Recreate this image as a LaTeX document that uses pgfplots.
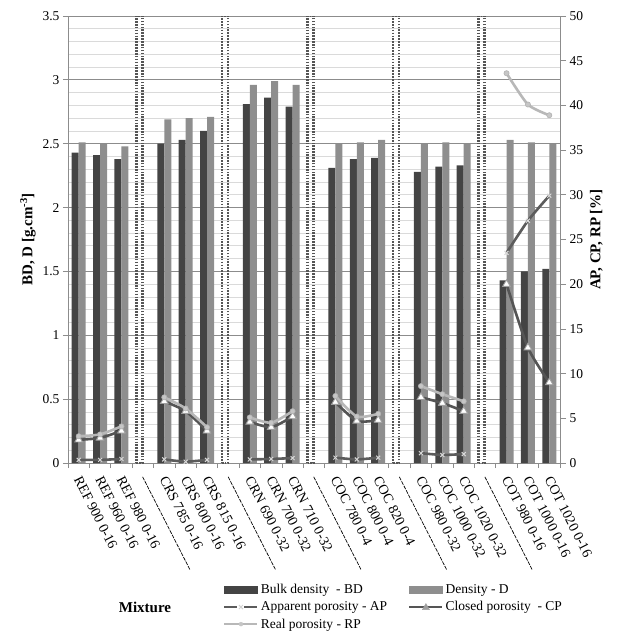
\documentclass[border=0pt]{standalone}
\usepackage{fontspec}
\setmainfont{Liberation Serif}
\usepackage{pgfplots}
\usepackage{pgfplotstable}
\pgfplotsset{compat=1.18}

\definecolor{bdcol}{HTML}{444444}
\definecolor{dcol}{HTML}{8E8E8E}
\definecolor{apcol}{HTML}{5C5C5C}
\definecolor{cpcol}{HTML}{555555}
\definecolor{rpcol}{HTML}{B8B8B8}
\definecolor{majgrid}{HTML}{8C8C8C}
\definecolor{mingrid}{HTML}{DADADA}
\definecolor{sepcol}{HTML}{555555}

\pgfplotstableread{
x BD D
0 2.43 2.51
1 2.41 2.50
2 2.38 2.48
4 2.50 2.69
5 2.53 2.70
6 2.60 2.71
8 2.81 2.96
9 2.86 2.99
10 2.79 2.96
12 2.31 2.50
13 2.38 2.51
14 2.39 2.53
16 2.28 2.50
17 2.32 2.51
18 2.33 2.50
20 1.43 2.53
21 1.50 2.51
22 1.52 2.50
}\bars

\pgfplotstableread{
x S
3 3.5
7 3.5
11 3.5
15 3.5
19 3.5
}\seps

\pgfplotstableread{
x AP CP RP
0 0.35 2.6 3.0
1 0.35 2.8 3.2
2 0.45 3.6 4.1
3 nan nan nan
4 0.4 6.9 7.35
5 0.15 5.8 6.1
6 0.35 3.6 4.0
7 nan nan nan
8 0.4 4.6 5.1
9 0.45 4.0 4.5
10 0.55 5.2 5.8
11 nan nan nan
12 0.6 6.8 7.5
13 0.4 4.7 5.2
14 0.6 4.8 5.5
15 nan nan nan
16 1.1 7.35 8.6
17 0.9 6.7 7.7
18 1.0 5.8 6.9
19 nan nan nan
20 23.5 20.0 43.6
21 27.1 12.9 40.1
22 29.9 9.0 38.9
}\por

\newcommand{\sepl}{\strut\foreach \k in {1,...,21}{\rule[3.4pt]{3.9pt}{0.7pt}\kern1.1pt}}

\begin{document}
\begin{tikzpicture}
\path[use as bounding box] (-68pt,-169pt) rectangle (551pt,463pt);
\begin{axis}[
  scale only axis, width=492pt, height=447pt,
  xmin=-0.5, xmax=22.5, ymin=0, ymax=3.5,
  axis y line*=left, axis x line*=bottom,
  ytick={0,0.5,...,3.5}, minor y tick num=4,
  ymajorgrids, yminorgrids,
  major grid style={majgrid, line width=0.9pt},
  minor grid style={mingrid, line width=0.8pt},
  minor y tick style={draw=none},
  xtick={0,...,22},
  major x tick style={draw=none},
  minor xtick={-0.5,0.5,...,22.5},
  minor x tick style={draw=majgrid, line width=0.8pt},
  tick align=outside,
  major tick length=5pt, minor tick length=5pt,
  y tick style={draw=majgrid, line width=0.8pt},
  axis line style={majgrid, line width=0.9pt},
  xticklabels={REF 900 0-16, REF 960 0-16, REF 980 0-16, \sepl,
    CRS 785 0-16, CRS 800 0-16, CRS 815 0-16, \sepl,
    CRN 690 0-32, CRN 700 0-32, CRN 710 0-32, \sepl,
    COC 780 0-4, COC 800 0-4, COC 820 0-4, \sepl,
    COC 980 0-32, COC 1000 0-32, COC 1020 0-32, \sepl,
    COT 980 0-16, COT 1000 0-16, COT 1020 0-16},
  x tick label style={yshift=-9pt, xshift=-1pt, rotate=-63, anchor=west, font=\fontsize{14}{15}\selectfont, inner sep=0pt},
  y tick label style={font=\fontsize{13.5}{15}\selectfont},
  /pgf/number format/assume math mode=true,
  yticklabel style={/pgf/number format/fixed, /pgf/number format/precision=1},
  ylabel={\textbf{BD, D [g.cm\textsuperscript{-3}]}},
  ylabel style={font=\fontsize{15}{16}\selectfont},
  ybar, bar width=7pt,
]
\addplot[ybar, bar shift=-3.5pt, fill=bdcol, draw=none] table[x=x, y=BD] {\bars};
\addplot[ybar, bar shift=3.5pt, fill=dcol, draw=none] table[x=x, y=D] {\bars};
\addplot[ybar, bar shift=-3.5pt, bar width=6pt, fill=none, draw=sepcol, line width=2.4pt, dash pattern=on 1.6pt off 1.3pt] table[x=x, y=S] {\seps};
\end{axis}
\begin{axis}[
  scale only axis, width=492pt, height=447pt,
  xmin=-0.5, xmax=22.5, ymin=0, ymax=50,
  axis y line*=right, axis x line=none,
  ytick={0,5,...,50},
  tick align=outside, major tick length=6pt,
  y tick style={draw=majgrid, line width=0.8pt},
  axis line style={majgrid, line width=0.9pt},
  y tick label style={font=\fontsize{13.5}{15}\selectfont},
  /pgf/number format/assume math mode=true,
  ylabel={\textbf{AP, CP, RP [\%]}},
  ylabel style={font=\fontsize{15}{16}\selectfont},
  unbounded coords=jump,
  legend columns=2,
  legend style={at={(0.315,-0.267)}, anchor=north west, draw=none, fill=none,
    font=\fontsize{13.5}{15}\selectfont, inner sep=0pt, row sep=2.2pt,
    /tikz/every even column/.append style={column sep=19pt}},
  legend cell align=left,
]
\addplot[cpcol, line width=2.6pt, smooth, tension=0.4, mark=triangle*, mark size=4.4pt,
  mark options={solid, fill=white, draw=gray!75, line width=0.9pt}, forget plot] table[x=x, y=CP] {\por};
\addplot[apcol, line width=2.6pt, smooth, tension=0.4, mark=x, mark size=2.8pt,
  mark options={solid, draw=gray!30, line width=1pt}, forget plot] table[x=x, y=AP] {\por};
\addplot[rpcol, line width=2.6pt, smooth, tension=0.4, mark=*, mark size=2.6pt,
  mark options={solid, fill=gray!45, draw=gray!60, line width=0.6pt}, forget plot] table[x=x, y=RP] {\por};

\addlegendimage{legend image code/.code={\fill[bdcol] (0pt,-3.5pt) rectangle (33pt,3.5pt);}}
\addlegendentry{Bulk density\ \ - BD}
\addlegendimage{legend image code/.code={\fill[dcol] (0pt,-3.5pt) rectangle (33pt,3.5pt);}}
\addlegendentry{Density - D}
\addlegendimage{legend image code/.code={
  \draw[apcol, line width=2.6pt] (0pt,0pt) -- (13pt,0pt);
  \draw[apcol, line width=2.6pt] (20pt,0pt) -- (33pt,0pt);
  \draw[gray!35, line width=1pt] (14.5pt,-2pt) -- (18.5pt,2pt) (14.5pt,2pt) -- (18.5pt,-2pt);}}
\addlegendentry{Apparent porosity - AP}
\addlegendimage{legend image code/.code={
  \draw[cpcol, line width=2.6pt] (0pt,0pt) -- (33pt,0pt);
  \fill[gray!75] (16.5pt,3.5pt) -- (13pt,-2.5pt) -- (20pt,-2.5pt) -- cycle;}}
\addlegendentry{Closed porosity\ \ - CP}
\addlegendimage{legend image code/.code={
  \draw[rpcol, line width=2.6pt] (0pt,0pt) -- (33pt,0pt);
  \fill[gray!45] (16.5pt,0pt) circle (2pt);}}
\addlegendentry{Real porosity - RP}
\end{axis}
\node[font=\fontsize{15}{16}\selectfont\bfseries] at (77pt,-144pt) {Mixture};
\end{tikzpicture}
\end{document}
